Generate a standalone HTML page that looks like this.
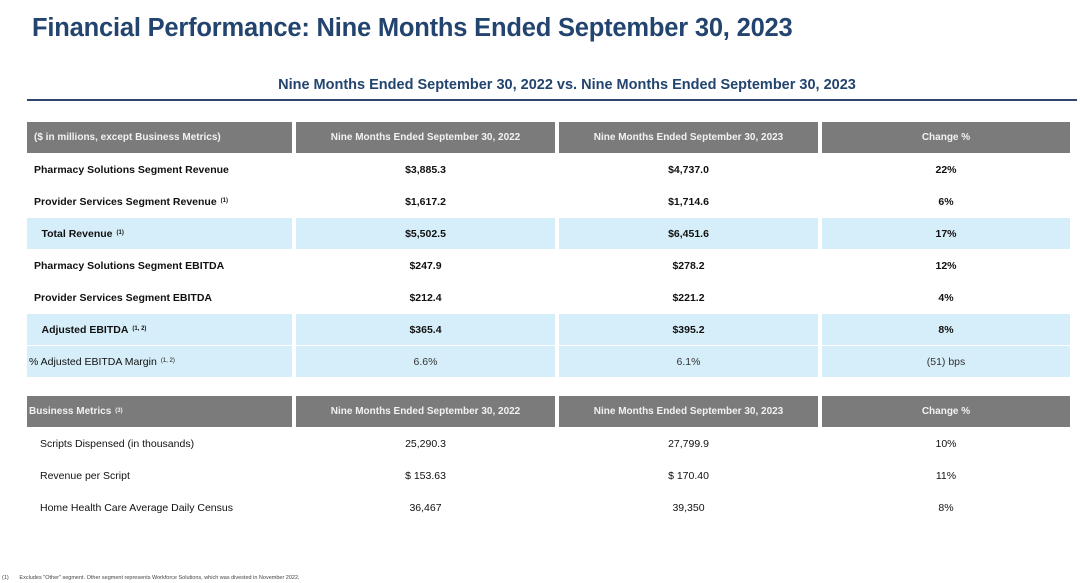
<!DOCTYPE html>
<html><head><meta charset="utf-8"><style>
body{margin:0;width:1080px;height:583px;background:#fff;font-family:"Liberation Sans",sans-serif;position:relative;overflow:hidden}
.abs{position:absolute}
.title{left:32px;top:14px;font-size:25.5px;font-weight:bold;color:#22446e;letter-spacing:-0.2px}
.sub{left:27px;width:1080px;top:77px;text-align:center;font-size:14.5px;font-weight:bold;color:#22446e}
.rule{left:27px;top:99px;width:1050px;height:2px;background:#2e4670}
.cell{position:absolute;display:flex;align-items:center;justify-content:center;font-size:10.5px;color:#111;box-sizing:border-box}
.hd{background:#7b7b7b;color:#f2f2f2;font-weight:bold}
.hl{background:#d6eef9}
.lbl{justify-content:flex-start;padding-left:7px}
.b{font-weight:bold}
sup{font-size:6px;vertical-align:top;line-height:1;margin-left:4px;margin-top:-2px}
</style></head><body>
<div class="abs title">Financial Performance: Nine Months Ended September 30, 2023</div>
<div class="abs sub">Nine Months Ended September 30, 2022 vs. Nine Months Ended September 30, 2023</div>
<div class="abs rule"></div>
<div id="t"></div>
<div class="abs" style="left:2px;top:575px;font-size:5.5px;color:#444">(1)&nbsp;&nbsp;&nbsp;&nbsp;&nbsp;&nbsp;&nbsp;Excludes "Other" segment. Other segment represents Workforce Solutions, which was divested in November 2022.</div>
<script>
const cols=[[27,292],[296,555],[559,818],[822,1070]];
const rows=[
 {y:121,h:32,hd:1,c:["($ in millions, except Business Metrics)","Nine Months Ended September 30, 2022","Nine Months Ended September 30, 2023","Change %"]},
 {y:153,h:32,b:1,c:["Pharmacy Solutions Segment Revenue","$3,885.3","$4,737.0","22%"]},
 {y:185,h:32,b:1,c:["Provider Services Segment Revenue <sup>(1)</sup>","$1,617.2","$1,714.6","6%"]},
 {y:217,h:32,b:1,hl:1,ind:1,c:["Total Revenue <sup>(1)</sup>","$5,502.5","$6,451.6","17%"]},
 {y:249,h:32,b:1,c:["Pharmacy Solutions Segment EBITDA","$247.9","$278.2","12%"]},
 {y:281,h:32,b:1,c:["Provider Services Segment EBITDA","$212.4","$221.2","4%"]},
 {y:313,h:32,b:1,hl:1,ind:1,c:["Adjusted EBITDA <sup>(1, 2)</sup>","$365.4","$395.2","8%"]},
 {y:345,h:32,hl:1,ind:-1,c:["% Adjusted EBITDA Margin <sup>(1, 2)</sup>","6.6%","6.1%","(51) bps"]},
 {y:395,h:32,hd:1,ind:-1,c:["Business Metrics <sup>(3)</sup>","Nine Months Ended September 30, 2022","Nine Months Ended September 30, 2023","Change %"]},
 {y:427,h:32,ind:4,c:["Scripts Dispensed (in thousands)","25,290.3","27,799.9","10%"]},
 {y:459,h:32,ind:4,c:["Revenue per Script","$ 153.63","$ 170.40","11%"]},
 {y:491,h:32,ind:4,c:["Home Health Care Average Daily Census","36,467","39,350","8%"]}
];
const t=document.getElementById('t');
rows.forEach((r,ri)=>{
 r.c.forEach((txt,ci)=>{
  const d=document.createElement('div');
  
  
  let cls='cell';
  if(r.hd)cls+=' hd'; else if(r.hl)cls+=' hl';
  if(ci==0)cls+=' lbl';
  if(r.b)cls+=' b';
  d.className=cls;
  d.style.left=cols[ci][0]+'px';d.style.width=(cols[ci][1]-cols[ci][0])+'px';
  d.style.top=(r.y+1)+'px';d.style.height=(r.h-(r.hd||r.hl?1:0))+'px';
  if(r.hd)d.style.fontSize='10px';
  if(ci==0&&r.ind)d.style.paddingLeft=(7+r.ind*1.5+(r.ind>0&&r.ind<4?6:0))+'px';
  if(ci==0&&r.ind==-1)d.style.paddingLeft='2px';
  if(ri==7&&ci>0)d.style.color='#333';
  d.innerHTML=txt;
  t.appendChild(d);
 });
});
</script>
</body></html>
